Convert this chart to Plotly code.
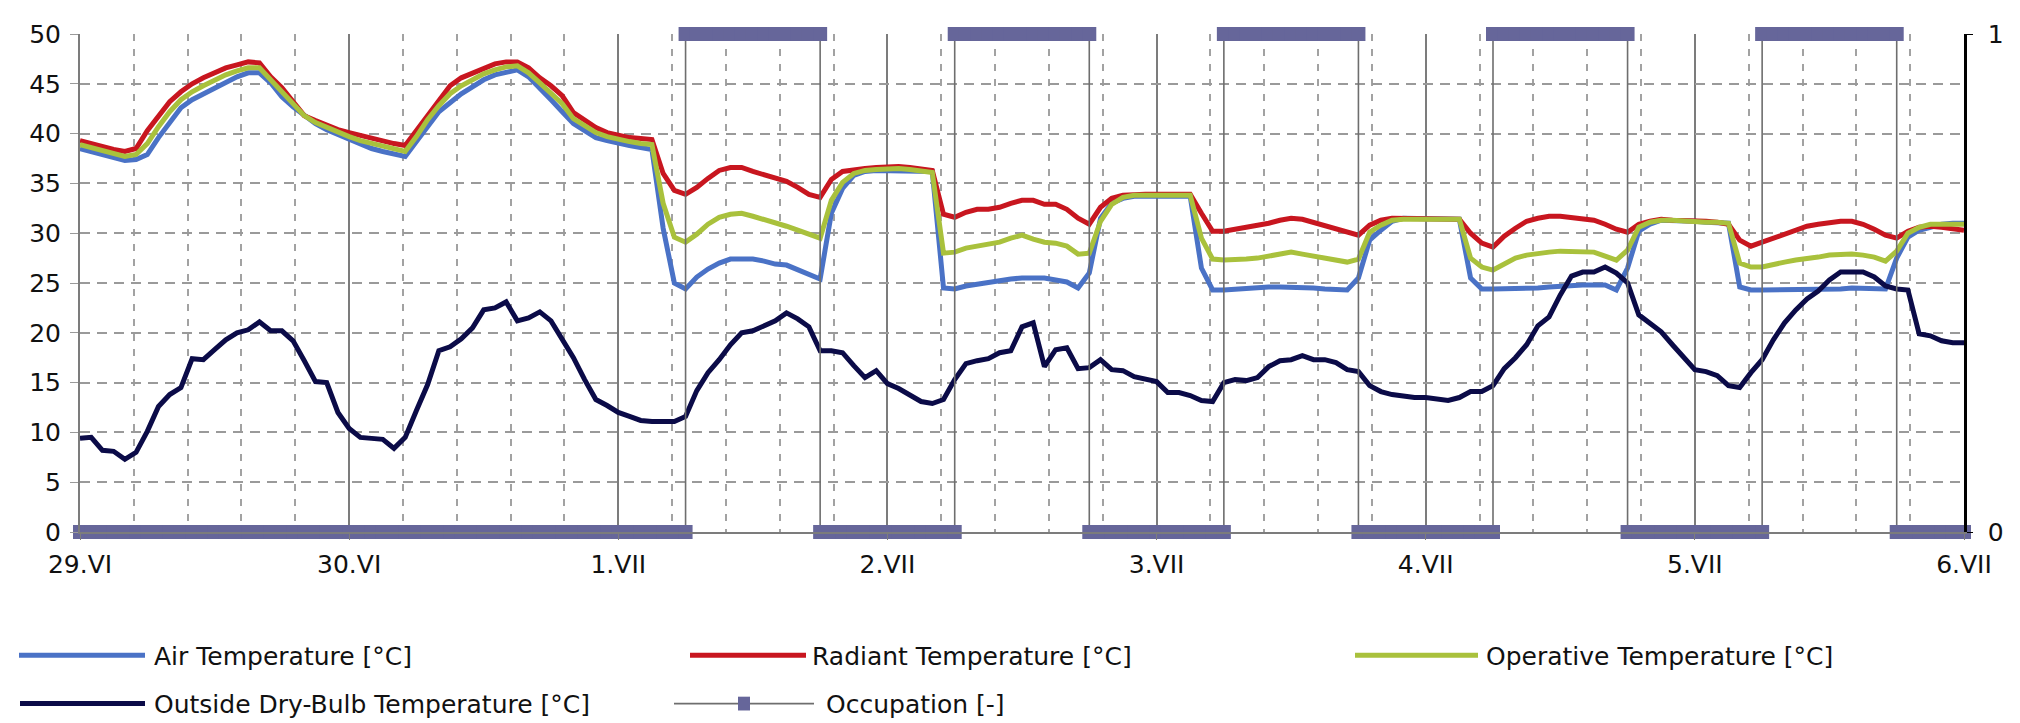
import plotly.graph_objects as go

# ---------------- data (hourly, h = hours since 29.VI 00:00) ----------------
hours = list(range(169))

air_temp = [
    38.5, 38.2, 37.8, 37.5, 37.3, 37.4, 37.9, 39.6, 41.2, 42.6, 43.4, 44.0, 44.6, 45.2, 45.7, 46.1, 46.1, 45.1, 43.7, 42.7, 41.8, 41.0, 40.4, 39.9,
    39.4, 38.9, 38.5, 38.2, 37.9, 37.7, 39.2, 40.8, 42.2, 43.1, 44.0, 44.7, 45.4, 45.9, 46.2, 46.4, 45.7, 44.6, 43.4, 42.2, 41.0, 40.3, 39.6, 39.3,
    39.0, 38.8, 38.6, 38.4, 30.5, 25.0, 24.4, 25.6, 26.4, 27.0, 27.4, 27.4, 27.4, 27.2, 26.9, 26.8, 26.3, 25.8, 25.4, 32.0, 34.5, 35.8, 36.2, 36.3,
    36.3, 36.3, 36.3, 36.2, 36.2, 24.5, 24.4, 24.7, 24.9, 25.0, 25.2, 25.4, 25.5, 25.5, 25.5, 25.3, 25.1, 24.5, 26.0, 31.5, 33.0, 33.5, 33.7, 33.7,
    33.7, 33.7, 33.7, 33.7, 26.5, 24.3, 24.3, 24.4, 24.4, 24.5, 24.6, 24.6, 24.6, 24.6, 24.5, 24.4, 24.3, 24.3, 25.5, 29.3, 30.3, 31.2, 31.5, 31.5,
    31.4, 31.4, 31.4, 31.4, 25.5, 24.4, 24.4, 24.4, 24.4, 24.5, 24.5, 24.6, 24.7, 24.8, 24.8, 24.8, 24.8, 24.3, 26.5, 30.2, 30.9, 31.3, 31.3, 31.2,
    31.2, 31.1, 31.0, 31.0, 24.6, 24.3, 24.3, 24.3, 24.3, 24.3, 24.3, 24.3, 24.4, 24.4, 24.5, 24.5, 24.4, 24.4, 27.5, 29.6, 30.3, 30.6, 30.9, 31.0,
    31.0,
]

radiant_temp = [
    39.3, 39.0, 38.6, 38.4, 38.2, 38.5, 40.3, 41.8, 43.2, 44.2, 45.0, 45.6, 46.1, 46.6, 46.9, 47.2, 47.1, 45.7, 44.6, 43.1, 41.8, 41.3, 40.8, 40.4,
    40.1, 39.8, 39.5, 39.2, 39.0, 38.8, 40.3, 42.0, 43.5, 44.8, 45.6, 46.1, 46.6, 47.0, 47.2, 47.2, 46.6, 45.6, 44.8, 43.8, 42.1, 41.3, 40.6, 40.1,
    39.8, 39.6, 39.5, 39.4, 36.0, 34.3, 33.9, 34.6, 35.5, 36.3, 36.6, 36.6, 36.2, 35.9, 35.6, 35.2, 34.6, 33.9, 33.6, 35.4, 36.2, 36.4, 36.5, 36.6,
    36.7, 36.7, 36.6, 36.5, 36.3, 31.9, 31.6, 32.1, 32.4, 32.4, 32.6, 33.0, 33.3, 33.3, 32.9, 32.9, 32.4, 31.5, 30.9, 32.6, 33.5, 33.8, 33.9, 33.9,
    33.9, 33.9, 33.9, 33.9, 32.0, 30.2, 30.2, 30.4, 30.5, 30.7, 31.0, 31.3, 31.5, 31.4, 31.1, 30.7, 30.4, 30.1, 29.8, 30.8, 31.3, 31.5, 31.5, 31.4,
    31.4, 31.4, 31.4, 31.4, 30.0, 29.0, 28.6, 29.7, 30.5, 31.2, 31.5, 31.7, 31.7, 31.6, 31.5, 31.3, 30.9, 30.4, 30.1, 30.9, 31.2, 31.4, 31.3, 31.3,
    31.3, 31.2, 31.1, 30.9, 29.3, 28.7, 29.1, 29.5, 30.0, 30.4, 30.7, 30.9, 31.1, 31.2, 31.2, 30.9, 30.4, 29.8, 29.5, 30.2, 30.6, 30.7, 30.6, 30.4,
    30.3,
]

operative_temp = [
    38.9, 38.6, 38.2, 37.9, 37.7, 37.9, 39.0, 40.7, 42.2, 43.4, 44.2, 44.8, 45.4, 45.9, 46.3, 46.6, 46.6, 45.4, 44.1, 42.9, 41.8, 41.1, 40.6, 40.1,
    39.7, 39.3, 39.0, 38.7, 38.4, 38.2, 39.7, 41.4, 42.8, 44.0, 44.8, 45.4, 46.0, 46.4, 46.7, 46.8, 46.1, 45.1, 44.1, 43.0, 41.5, 40.8, 40.1, 39.7,
    39.4, 39.2, 39.0, 38.9, 33.0, 29.6, 29.1, 29.9, 30.9, 31.6, 31.9, 32.0, 31.7, 31.4, 31.0, 30.7, 30.3, 29.9, 29.5, 33.3, 35.1, 36.0, 36.3, 36.4,
    36.5, 36.5, 36.4, 36.3, 36.1, 28.0, 28.1, 28.5, 28.7, 28.9, 29.1, 29.5, 29.8, 29.4, 29.1, 29.0, 28.7, 27.9, 28.0, 31.2, 32.9, 33.6, 33.8, 33.8,
    33.8, 33.8, 33.8, 33.8, 29.5, 27.4, 27.3, 27.3, 27.4, 27.5, 27.7, 27.9, 28.1, 27.9, 27.7, 27.5, 27.3, 27.1, 27.4, 30.1, 30.8, 31.3, 31.4, 31.4,
    31.4, 31.4, 31.4, 31.4, 27.5, 26.6, 26.3, 26.9, 27.5, 27.8, 28.0, 28.1, 28.2, 28.2, 28.2, 28.1, 27.7, 27.3, 28.3, 30.6, 31.1, 31.3, 31.3, 31.2,
    31.2, 31.1, 31.1, 31.0, 27.0, 26.6, 26.6, 26.9, 27.1, 27.3, 27.4, 27.6, 27.8, 27.9, 27.9, 27.8, 27.6, 27.2, 28.2, 30.0, 30.6, 30.9, 30.9, 30.9,
    30.9,
]

outside_temp = [
    9.4, 9.5, 8.2, 8.1, 7.3, 8.0, 10.1, 12.6, 13.8, 14.5, 17.4, 17.3, 18.3, 19.3, 20.0, 20.3, 21.1, 20.2, 20.2, 19.2, 17.2, 15.1, 15.0, 12.0,
    10.4, 9.5, 9.4, 9.3, 8.4, 9.5, 12.2, 14.8, 18.2, 18.6, 19.4, 20.5, 22.3, 22.5, 23.1, 21.2, 21.5, 22.1, 21.2, 19.3, 17.5, 15.3, 13.3, 12.7,
    12.0, 11.6, 11.2, 11.1, 11.1, 11.1, 11.6, 14.2, 16.0, 17.3, 18.8, 20.0, 20.2, 20.7, 21.2, 22.0, 21.4, 20.6, 18.2, 18.2, 18.0, 16.7, 15.5, 16.2,
    14.9, 14.4, 13.8, 13.1, 12.9, 13.3, 15.3, 16.9, 17.2, 17.4, 18.0, 18.2, 20.6, 21.0, 16.6, 18.3, 18.5, 16.4, 16.5, 17.3, 16.3, 16.2, 15.6, 15.3,
    15.1, 14.0, 14.0, 13.7, 13.2, 13.1, 15.0, 15.3, 15.2, 15.5, 16.6, 17.2, 17.3, 17.7, 17.3, 17.3, 17.0, 16.3, 16.1, 14.7, 14.1, 13.8, 13.6, 13.5,
    13.5, 13.4, 13.2, 13.5, 14.1, 14.1, 14.7, 16.4, 17.5, 18.8, 20.7, 21.6, 23.8, 25.7, 26.1, 26.1, 26.6, 26.0, 25.0, 21.8, 21.0, 20.1, 18.8, 17.5,
    16.3, 16.1, 15.7, 14.7, 14.5, 16.0, 17.3, 19.3, 21.0, 22.3, 23.4, 24.2, 25.3, 26.1, 26.1, 26.1, 25.6, 24.7, 24.4, 24.3, 19.9, 19.7, 19.2, 19.0,
    19.0,
]

# occupation schedule: hour at which each state begins, and the state value
occ_change_hours = [0, 54, 66, 78, 90, 102, 114, 126, 138, 150, 162, 168]
occ_levels = [0, 1, 0, 1, 0, 1, 0, 1, 0, 1, 0]

day_ticks = [0, 24, 48, 72, 96, 120, 144, 168]
day_labels = ["29.VI", "30.VI", "1.VII", "2.VII", "3.VII", "4.VII", "5.VII", "6.VII"]

series_names = ["Air Temperature [°C]", "Radiant Temperature [°C]", "Operative Temperature [°C]",
                "Outside Dry-Bulb Temperature [°C]", "Occupation [-]"]
series_colors = ["#4A72C6", "#C8161F", "#A9C13C", "#0B0B48", "#66669A"]
occ_line_color = "#6E6E6E"

# hourly occupation samples (state held for every hour of each interval)
occ_x, occ_y = [], []
for i, lvl in enumerate(occ_levels):
    for h in range(occ_change_hours[i], occ_change_hours[i + 1] + 1):
        occ_x.append(h)
        occ_y.append(lvl)

FONT = "DejaVu Sans"
W, H = 2020, 723
OFF = 8  # page body margin of the html page
# desired plot box in page pixels: x 80..1964, y 27..532
L, R, T, B = 80 - OFF, W - (1964 - OFF), 27 - OFF, H - (532 - OFF)
PW, PH = W - L - R, H - T - B

fig = go.Figure()
for name, vals, col in zip(series_names[:4], [air_temp, radiant_temp, operative_temp, outside_temp], series_colors[:4]):
    fig.add_trace(go.Scatter(x=hours, y=vals, mode="lines", name=name,
                             line=dict(color=col, width=5), showlegend=False))

fig.add_trace(go.Scatter(x=occ_x, y=occ_y, mode="lines+markers", name=series_names[4], yaxis="y2",
                         line=dict(color=occ_line_color, width=1.6),
                         marker=dict(symbol="square", size=14, color=series_colors[4], line=dict(width=0)),
                         cliponaxis=False, showlegend=False))

# ---------------- custom legend (layout decoration), page-pixel positions ----------------
def px_x(p):
    return (p - OFF - L) / PW

def px_y(p):
    return (H - B - (p - OFF)) / PH

legend_rows = [
    (657, [(19, 145, 152, 0), (690, 806, 810, 1), (1355, 1478, 1484, 2)]),
    (706, [(20, 145, 152, 3), (674, 814, 824, 4)]),
]
shapes, annots = [], []
for ypix, items in legend_rows:
    for x0, x1, xt, idx in items:
        if idx < 4:
            shapes.append(dict(type="line", xref="paper", yref="paper",
                               x0=px_x(x0), x1=px_x(x1), y0=px_y(ypix), y1=px_y(ypix),
                               line=dict(color=series_colors[idx], width=5)))
        else:
            shapes.append(dict(type="line", xref="paper", yref="paper",
                               x0=px_x(x0), x1=px_x(x1), y0=px_y(ypix), y1=px_y(ypix),
                               line=dict(color=occ_line_color, width=1.6)))
            xm = (x0 + x1) / 2
            shapes.append(dict(type="rect", xref="paper", yref="paper",
                               x0=px_x(xm - 6), x1=px_x(xm + 6), y0=px_y(ypix + 7), y1=px_y(ypix - 7),
                               fillcolor=series_colors[4], line=dict(width=0)))
        annots.append(dict(xref="paper", yref="paper", x=px_x(xt), y=px_y(ypix + 1),
                           xanchor="left", yanchor="middle", showarrow=False,
                           text=series_names[idx], font=dict(family=FONT, size=25, color="#111")))

fig.update_layout(
    width=W, height=H, autosize=False,
    margin=dict(l=L, r=R, t=T, b=B),
    paper_bgcolor="white", plot_bgcolor="white",
    font=dict(family=FONT, size=25, color="#111"),
    shapes=shapes, annotations=annots,
    xaxis=dict(range=[0, 168], tickmode="array", tickvals=day_ticks, ticktext=day_labels,
               showgrid=True, gridcolor="#7c7c7c", gridwidth=1.6,
               showline=True, linecolor="#7c7c7c", linewidth=1.6,
               ticks="outside", ticklen=6, tickcolor="#7c7c7c", ticklabelstandoff=3,
               zeroline=False,
               minor=dict(tickmode="linear", tick0=0, dtick=4.8, showgrid=True,
                          gridcolor="#a2a2a2", gridwidth=1.5, griddash="7px,8px", ticks="")),
    yaxis=dict(range=[0, 50], tickmode="linear", tick0=0, dtick=5,
               showgrid=True, gridcolor="#9a9a9a", gridwidth=1.5, griddash="10px,7px",
               showline=True, linecolor="#7c7c7c", linewidth=2,
               ticks="outside", ticklen=8, tickcolor="#9a9a9a", ticklabelstandoff=4,
               zeroline=False),
    yaxis2=dict(range=[0, 1], overlaying="y", side="right", tickmode="array", tickvals=[0, 1],
                showgrid=False, showline=True, linecolor="black", linewidth=2.5,
                ticks="outside", ticklen=6, tickcolor="black", ticklabelstandoff=10,
                zeroline=False),
)

fig.write_html("out.html")
